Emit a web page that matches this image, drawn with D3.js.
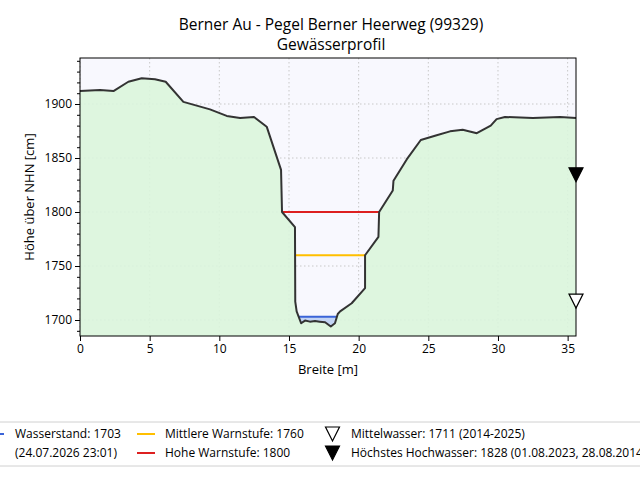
<!DOCTYPE html>
<html>
<head>
<meta charset="utf-8">
<script src="https://cdn.jsdelivr.net/npm/d3@7"></script>
<style>
  body { margin: 0; background: #fff; }
  svg { display: block; font-family: "Open Sans", sans-serif; }
</style>
</head>
<body>
<div id="chart"></div>
<script>
// Gewässerprofil (Breite in m, Höhe in cm über NHN)
var breite = [0, 1.44, 2.4, 3.47, 4.43, 5.38, 6.15, 7.42, 9.33, 10.53, 11.49, 12.49, 13.4, 14.43, 14.5,
  15.43, 15.45, 15.55, 15.87, 16.15, 16.5, 16.87, 17.2, 17.59, 18.0, 18.3, 18.5, 18.67, 19.5,
  20.46, 20.46, 21.42, 21.47, 22.45, 22.5, 23.45, 24.46, 25.6, 26.56, 27.47, 28.48, 29.48,
  29.9, 30.5, 32.5, 34.46, 35.6]
var hoehe = [1912, 1913, 1912, 1920.6, 1923.8, 1923, 1920.6, 1902, 1895, 1889, 1887, 1888, 1879, 1839, 1800,
  1786, 1717, 1708, 1697, 1699.5, 1698.5, 1699, 1698.5, 1698, 1694, 1697, 1705.6, 1708, 1715.5,
  1729.5, 1760, 1777, 1800, 1820, 1829, 1848.7, 1866.7, 1871, 1874.7, 1876.2, 1873, 1880,
  1886, 1888, 1887, 1888, 1887]

var wasserstand = 1703
var warnNames = ["Mittlere Warnstufe", "Hohe Warnstufe"]
var warnLevels = [1760, 1800]
var warnColors = ["#ffbf00", "#dd2020"]
var markerNames = ["Mittelwasser", "Höchstes Hochwasser"]
var markerLevels = [1711, 1828]
var markerInfo = ["(2014-2025)", "(01.08.2023, 28.08.2014)"]
var xTicks = [0, 5, 10, 15, 20, 25, 30, 35]
var yTicks = [1700, 1750, 1800, 1850, 1900]

var W = 640, H = 480
var margin = {top: 58, right: 64, bottom: 144, left: 80}
var width = W - margin.left - margin.right
var height = H - margin.top - margin.bottom

var svg = d3.select("#chart").append("svg")
    .attr("width", W)
    .attr("height", H)

var x = d3.scaleLinear().domain([0, 35.6]).range([0, width])
var y = d3.scaleLinear().domain([1685.2, 1942.6]).range([height, 0])

var profil = breite.map(function(b, i) { return [b, hoehe[i]] })

// title
svg.append("text").attr("x", 331).attr("y", 30).attr("text-anchor", "middle")
    .style("font-size", "15.5px").text("Berner Au - Pegel Berner Heerweg (99329)")
svg.append("text").attr("x", 331).attr("y", 50).attr("text-anchor", "middle")
    .style("font-size", "15.5px").text("Gewässerprofil")

var g = svg.append("g")
    .attr("transform", "translate(" + margin.left + "," + margin.top + ")")

g.append("rect").attr("width", width).attr("height", height).style("fill", "#f8f8fe")

// grid
g.selectAll(".gx").data(xTicks).enter().append("line")
    .attr("x1", x).attr("x2", x).attr("y1", 0).attr("y2", height)
    .style("stroke", "#c8c8c8").style("stroke-width", 1).style("stroke-dasharray", "1.5,2.5")
g.selectAll(".gy").data(yTicks).enter().append("line")
    .attr("y1", y).attr("y2", y).attr("x1", 0).attr("x2", width)
    .style("stroke", "#c8c8c8").style("stroke-width", 1).style("stroke-dasharray", "1.5,2.5")

// ground
var ground = d3.area()
    .x(function(d) { return x(d[0]) })
    .y0(height)
    .y1(function(d) { return y(d[1]) })
g.append("path").datum(profil).attr("d", ground).style("fill", "#daf5dc").style("fill-opacity", 0.9)

// where a level meets the channel walls
var minIdx = d3.minIndex(hoehe)
function walls(level) {
  var l = minIdx, r = minIdx
  while (l > 0 && hoehe[l - 1] < level) l--
  while (r < hoehe.length - 1 && hoehe[r + 1] < level) r++
  function cut(a, b) {
    if (hoehe[a] === hoehe[b]) return breite[a]
    return breite[a] + (level - hoehe[a]) / (hoehe[b] - hoehe[a]) * (breite[b] - breite[a])
  }
  return {left: cut(l - 1, l), right: cut(r, r + 1), l: l, r: r}
}

// water body
var ws = walls(wasserstand)
var wasser = [[ws.left, wasserstand]].concat(profil.slice(ws.l, ws.r + 1), [[ws.right, wasserstand]])
g.append("path").datum(wasser)
    .attr("d", d3.area().x(function(d) { return x(d[0]) }).y0(y(wasserstand)).y1(function(d) { return y(d[1]) }))
    .style("fill", "#c3d4f4")

// level lines
warnLevels.forEach(function(lv, i) {
  var w = walls(lv)
  g.append("line").attr("x1", x(w.left)).attr("x2", x(w.right)).attr("y1", y(lv)).attr("y2", y(lv))
      .style("stroke", warnColors[i]).style("stroke-width", 2)
})
g.append("line").attr("x1", x(ws.left)).attr("x2", x(ws.right))
    .attr("y1", y(wasserstand)).attr("y2", y(wasserstand))
    .style("stroke", "#3b64d8").style("stroke-width", 2)

// profile line
g.append("path").datum(profil)
    .attr("d", d3.line().x(function(d) { return x(d[0]) }).y(function(d) { return y(d[1]) }))
    .style("fill", "none").style("stroke", "#333").style("stroke-width", 2).style("stroke-linejoin", "round")

// frame
g.append("rect").attr("width", width).attr("height", height)
    .style("fill", "none").style("stroke", "#000").style("stroke-width", 1)

// triangle markers, tip on the level
function tri(cx, tipY) {
  return "M" + (cx - 7) + "," + (tipY - 14) + "L" + (cx + 7) + "," + (tipY - 14) + "L" + cx + "," + tipY + "Z"
}
markerLevels.forEach(function(lv, i) {
  g.append("path").attr("d", tri(width, y(lv)))
      .style("fill", i === 0 ? "#fff" : "#000").style("stroke", "#000").style("stroke-width", 1.2)
})

// axes
var xAxis = g.append("g").attr("transform", "translate(0," + height + ")")
    .call(d3.axisBottom(x).tickValues(xTicks).tickSize(5).tickPadding(3))
var yAxis = g.append("g")
    .call(d3.axisLeft(y).tickValues(yTicks).tickFormat(d3.format("d")).tickSize(5).tickPadding(3))
g.append("g").call(d3.axisLeft(y).tickValues(d3.range(1690, 1941, 10).filter(function(v) { return v % 50 !== 0 }))
    .tickSize(3).tickFormat(""))
  .select(".domain").remove()
;[xAxis, yAxis].forEach(function(a) {
  a.selectAll("text").style("font-size", "12px").style("font-family", "Open Sans, sans-serif").style("fill", "#000")
  a.select(".domain").remove()
})

svg.append("text").attr("x", 328).attr("y", 374).attr("text-anchor", "middle")
    .style("font-size", "13px").text("Breite [m]")
svg.append("text").attr("transform", "translate(34," + (margin.top + height / 2) + ") rotate(-90)")
    .attr("text-anchor", "middle").style("font-size", "13px").text("Höhe über NHN [cm]")

// legend
var leg = svg.append("g")
leg.append("line").attr("x1", -10).attr("x2", 650).attr("y1", 422).attr("y2", 422).style("stroke", "#d0d0d0")
leg.append("line").attr("x1", -10).attr("x2", 650).attr("y1", 466).attr("y2", 466).style("stroke", "#d0d0d0")

var row1 = 434, row2 = 453
leg.append("line").attr("x1", -14).attr("x2", 4).attr("y1", row1).attr("y2", row1)
    .style("stroke", "#3b64d8").style("stroke-width", 2)
leg.append("text").attr("x", 15).attr("y", row1 + 4).style("font-size", "12px").text("Wasserstand: " + wasserstand)
leg.append("text").attr("x", 15).attr("y", row2 + 4).style("font-size", "12px").text("(24.07.2026 23:01)")

warnLevels.forEach(function(lv, i) {
  var ry = i === 0 ? row1 : row2
  leg.append("line").attr("x1", 137).attr("x2", 155).attr("y1", ry).attr("y2", ry)
      .style("stroke", warnColors[i]).style("stroke-width", 2)
  leg.append("text").attr("x", 165).attr("y", ry + 4).style("font-size", "12px")
      .text(warnNames[i] + ": " + lv)
})

markerLevels.forEach(function(lv, i) {
  var ry = i === 0 ? row1 : row2
  leg.append("path").attr("d", tri(332.5, ry + 7))
      .style("fill", i === 0 ? "#fff" : "#000").style("stroke", "#000").style("stroke-width", 1.2)
  leg.append("text").attr("x", 351).attr("y", ry + 4).style("font-size", "12px")
      .text(markerNames[i] + ": " + lv + " " + markerInfo[i])
})
</script>
</body>
</html>
